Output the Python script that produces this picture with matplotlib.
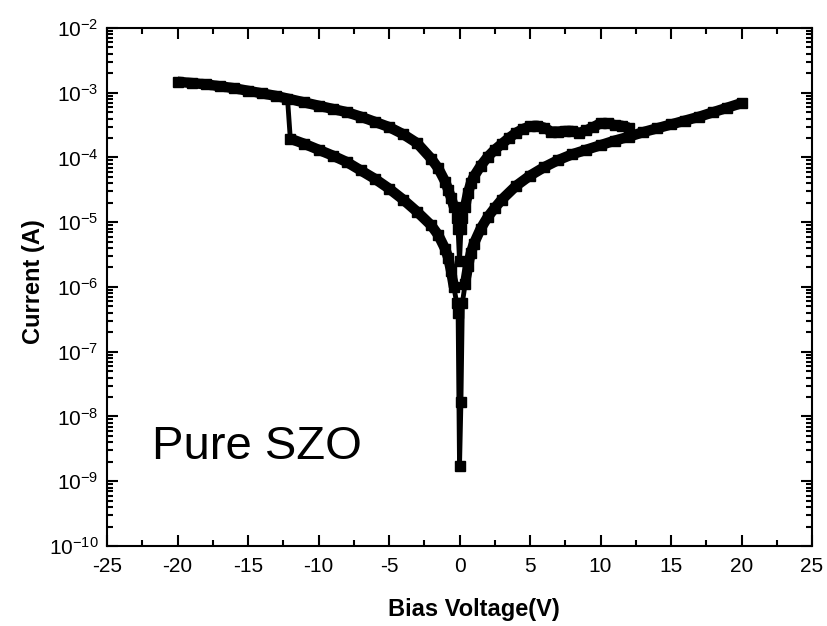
import numpy as np
import matplotlib
matplotlib.use("Agg")
import matplotlib.pyplot as plt
from matplotlib.ticker import MultipleLocator, LogLocator, NullFormatter

plt.rcParams['font.family'] = ['Liberation Sans', 'DejaVu Sans']
plt.rcParams['axes.unicode_minus'] = False

# high-current branch, swept -20 V -> +12 V (log10 of current in A)
v_high = [-20, -19, -18, -17, -16, -15, -14, -13, -12.2, -11, -10, -9, -8, -7, -6,
          -5, -4, -3, -2, -1.5, -1, -0.8, -0.6, -0.4, -0.2, -0.1, 0.0, 0.1, 0.2,
          0.4, 0.6, 0.8, 1, 1.5, 2, 2.5, 3, 3.5, 4, 4.5, 5, 5.5, 6, 6.5, 7, 7.5,
          8, 8.5, 9, 9.5, 10, 10.5, 11, 11.5, 12]
log_i_high = [-2.83, -2.85, -2.87, -2.90, -2.93, -2.97, -3.01, -3.05, -3.09, -3.15,
              -3.20, -3.25, -3.30, -3.37, -3.45, -3.53, -3.64, -3.78, -4.02, -4.17,
              -4.38, -4.50, -4.62, -4.76, -4.93, -5.11, -5.60, -5.11, -4.93,
              -4.76, -4.55, -4.40, -4.30, -4.13, -3.99, -3.88, -3.79, -3.70, -3.62,
              -3.56, -3.52, -3.51, -3.54, -3.60, -3.60, -3.59, -3.59, -3.62, -3.58,
              -3.53, -3.47, -3.47, -3.50, -3.51, -3.54]

# low-current branch, -12 V -> +20 V
v_low = [-12, -11, -10, -9, -8, -7, -6, -5, -4, -3, -2, -1.5, -1, -0.8, -0.6,
         -0.4, -0.2, -0.1, 0.0, 0.1, 0.2, 0.4, 0.6, 0.8, 1, 1.5, 2, 2.5, 3, 4, 5,
         6, 7, 8, 9, 10, 11, 12, 13, 14, 15, 16, 17, 18, 19, 20]
log_i_low = [-3.71, -3.79, -3.88, -3.97, -4.07, -4.20, -4.33, -4.48, -4.65, -4.84,
             -5.05, -5.20, -5.42, -5.55, -5.75, -6.00, -6.25, -6.40, -8.76, -7.78,
             -6.25, -5.95, -5.68, -5.48, -5.34, -5.10, -4.92, -4.78, -4.65, -4.44,
             -4.28, -4.15, -4.04, -3.95, -3.88, -3.81, -3.74, -3.68, -3.61, -3.55,
             -3.49, -3.43, -3.37, -3.30, -3.23, -3.16]

# switching jump at -12 V
v_jump = [-12.2, -12]
log_i_jump = [-3.09, -3.71]

fig = plt.figure(figsize=(8.27, 6.26), dpi=100)
ax = fig.add_axes([0.1294, 0.1278, 0.8525, 0.8275])

for v, li in [(v_high, log_i_high), (v_low, log_i_low)]:
    v = np.array(v)
    cur = 10.0 ** np.array(li)
    # thin connecting line + square markers through every point
    ax.plot(v, cur, color='black', lw=3.5, marker='s', ms=6.5, mec='black', mfc='black')
    # dense measurement band away from zero bias
    for sel in (v <= -0.4, v >= 0.4):
        ax.plot(v[sel], cur[sel], color='black', lw=7.5, solid_capstyle='butt')

ax.plot(v_jump, 10.0 ** np.array(log_i_jump), color='black', lw=3.5)

ax.set_yscale('log')
ax.set_xlim(-25, 25)
ax.set_ylim(1e-10, 1e-2)

ax.xaxis.set_major_locator(MultipleLocator(5))
ax.xaxis.set_minor_locator(MultipleLocator(2.5))
ax.yaxis.set_major_locator(LogLocator(base=10, numticks=20))
ax.yaxis.set_minor_locator(LogLocator(base=10, subs=np.arange(2, 10), numticks=20))
ax.yaxis.set_minor_formatter(NullFormatter())

ax.tick_params(which='both', direction='in', top=True, right=True, width=1.5, labelsize=15)
ax.tick_params(which='major', length=8)
ax.tick_params(which='minor', length=4)
ax.tick_params(axis='x', pad=8)
ax.tick_params(axis='y', pad=6)
for s in ax.spines.values():
    s.set_linewidth(1.5)

ax.set_xlabel('Bias Voltage(V)', fontsize=17, fontweight='bold')
ax.set_ylabel('Current (A)', fontsize=17, fontweight='bold')
ax.xaxis.set_label_coords(0.52, -0.10)
ax.yaxis.set_label_coords(-0.088, 0.51)

ax.text(0.064, 0.168, 'Pure SZO', transform=ax.transAxes, fontsize=34,
        ha='left', va='baseline')

fig.savefig('out.png', dpi=100)
